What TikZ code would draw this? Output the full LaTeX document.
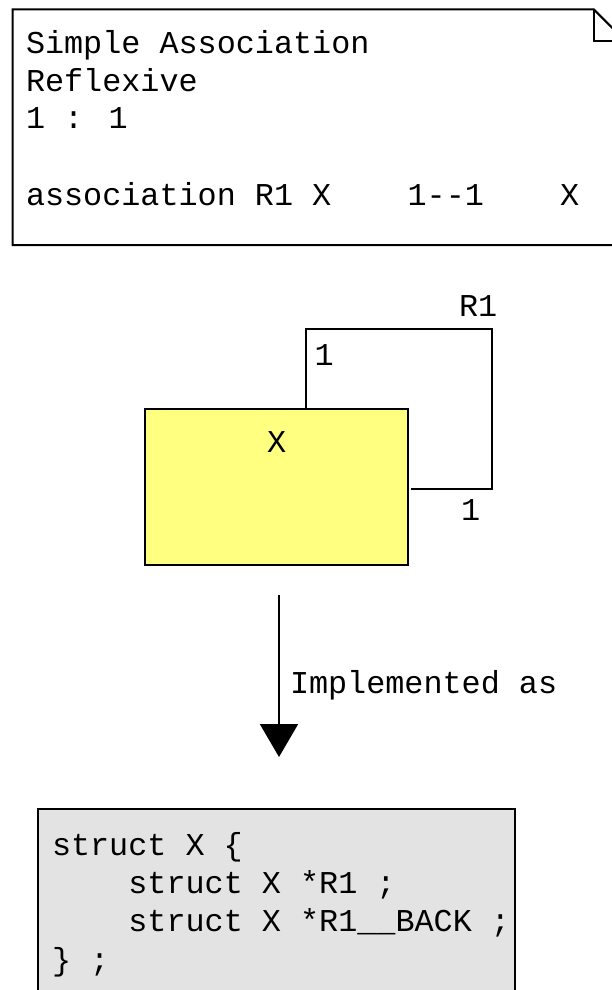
\documentclass[tikz,border=0pt]{standalone}
\usepackage{fontspec}
\newfontfamily\cour{Liberation Mono}
\usetikzlibrary{arrows.meta}
\definecolor{classyellow}{RGB}{255,255,128}
\definecolor{codegray}{RGB}{227,227,227}
\tikzset{
  txt/.style={inner sep=0pt, outer sep=0pt, anchor=base west, font=\cour\fontsize{31.8}{38}\selectfont},
  edge/.style={draw=black, line width=2pt},
}
\begin{document}
\begin{tikzpicture}[x=1pt,y=-1pt]
\useasboundingbox (0,0) rectangle (612,990);
\clip (0,0) rectangle (612,990);
% note
\draw[edge, fill=white, line join=miter] (12.7,9.3) -- (593.7,9.3) -- (625,40.7) -- (625,245) -- (12.7,245) -- cycle;
\draw[edge] (593.7,9.3) -- (593.7,40.7) -- (625,40.7);
\node[txt] (n1) at (26,54) {Simple Association};
\node[txt] (n2) at (26,91.5) {Reflexive};
\node[txt] (n3) at (26,128.5) {1 : 1};
\node[txt] (n4) at (26,205) {association R1 X\ \ \ \ 1--1\ \ \ \ X};
% class box
\node[edge, fill=classyellow, minimum width=263pt, minimum height=156pt, anchor=north west, inner sep=0pt, outer sep=0pt] (xbox) at (145,409) {};
\node[txt, anchor=base] (xlab) at (276.7,452) {X};
% reflexive loop
\coordinate (la) at (305.7,409);
\coordinate (lb) at (411,489);
\draw[edge] (la) |- (492.3,329.3) |- (lb);
\node[txt] (r1) at (459,316.7) {R1};
\node[txt] (m1) at (314.5,365) {1};
\node[txt] (m2) at (461,520.7) {1};
% arrow
\coordinate (as) at (279,595);
\coordinate (ae) at (279,757);
\draw[edge, -{Triangle[length=33pt,width=38pt]}] (as) -- (ae);
\node[txt] (impl) at (290,693) {Implemented as};
% code box
\draw[edge, fill=codegray] (38.3,809.3) rectangle (515,1010);
\node[txt] (c1) at (52,855) {struct X \{};
\node[txt] (c2) at (128.4,893.3) {struct X *R1 ;};
\node[txt] (c3) at (128.4,931.7) {struct X *R1\_\_BACK ;};
\node[txt] (c4) at (52,970) {\} ;};
\end{tikzpicture}
\end{document}
